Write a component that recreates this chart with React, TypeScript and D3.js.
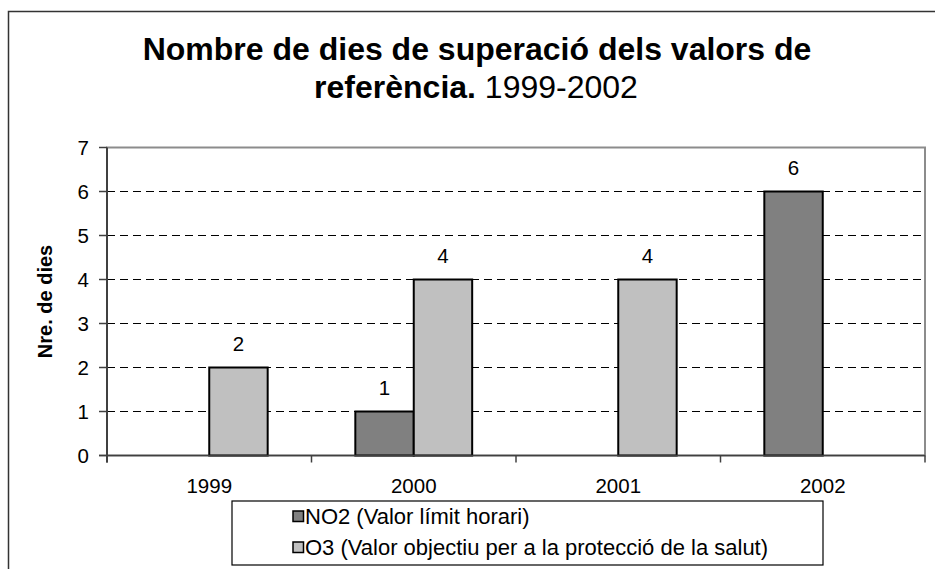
import { useEffect, useRef } from "react";
import * as d3 from "d3";

const years = ["1999", "2000", "2001", "2002"];
const seriesNames = ["NO2", "O3"];
const no2Values: (number | null)[] = [null, 1, null, 6];
const o3Values: (number | null)[] = [2, 4, 4, null];
const legendLabels = [
  "NO2 (Valor límit horari)",
  "O3 (Valor objectiu per a la protecció de la salut)",
];
const seriesColors = ["#808080", "#c0c0c0"];
const yTicks = [0, 1, 2, 3, 4, 5, 6, 7];

const width = 935;
const height = 569;
const font = "'Liberation Sans', Arial, sans-serif";

export default function App() {
  const ref = useRef<SVGSVGElement | null>(null);

  useEffect(() => {
    const svg = d3.select(ref.current);
    svg.selectAll("*").remove();

    const plot = { left: 107, right: 925, top: 147.5, bottom: 455.5 };

    const xScale = d3
      .scaleBand<string>()
      .domain(years)
      .range([plot.left, plot.right])
      .padding(0);

    const seriesScale = d3
      .scaleBand<string>()
      .domain(seriesNames)
      .range([0, xScale.bandwidth()])
      .paddingInner(0)
      .paddingOuter(0.75);

    const yScale = d3
      .scaleLinear()
      .domain([0, 7])
      .range([plot.bottom, plot.top]);

    // outer chart frame (runs off the page on the right and bottom)
    svg
      .append("rect")
      .attr("x", 8.5)
      .attr("y", 11.5)
      .attr("width", width)
      .attr("height", height)
      .attr("fill", "#ffffff")
      .attr("stroke", "#333333")
      .attr("stroke-width", 1.5);

    // title
    const title = svg
      .append("text")
      .attr("text-anchor", "middle")
      .attr("font-family", font)
      .attr("font-size", 32)
      .attr("fill", "#000000");
    title
      .append("tspan")
      .attr("x", 477)
      .attr("y", 59.5)
      .attr("font-weight", 700)
      .text("Nombre de dies de superació dels valors de");
    const line2 = title.append("tspan").attr("x", 476).attr("y", 97.5);
    line2.append("tspan").attr("font-weight", 700).text("referència.");
    line2.append("tspan").text(" 1999-2002");

    // plot frame
    svg
      .append("rect")
      .attr("x", plot.left)
      .attr("y", plot.top)
      .attr("width", plot.right - plot.left)
      .attr("height", plot.bottom - plot.top)
      .attr("fill", "#ffffff")
      .attr("stroke", "#8c8c8c")
      .attr("stroke-width", 2);

    // dashed gridlines
    svg
      .append("g")
      .selectAll("line")
      .data(yTicks.filter((t) => t > 0 && t < 7))
      .join("line")
      .attr("x1", plot.left)
      .attr("x2", plot.right)
      .attr("y1", (d) => yScale(d))
      .attr("y2", (d) => yScale(d))
      .attr("stroke", "#000000")
      .attr("stroke-width", 1)
      .attr("stroke-dasharray", "8,5");

    // bars
    const barData = years.flatMap((year, i) => [
      { year, series: "NO2", value: no2Values[i], color: seriesColors[0] },
      { year, series: "O3", value: o3Values[i], color: seriesColors[1] },
    ]).filter((d) => d.value !== null) as {
      year: string;
      series: string;
      value: number;
      color: string;
    }[];

    const barX = (d: { year: string; series: string }) =>
      (xScale(d.year) ?? 0) + (seriesScale(d.series) ?? 0);

    svg
      .append("g")
      .selectAll("rect")
      .data(barData)
      .join("rect")
      .attr("x", barX)
      .attr("y", (d) => yScale(d.value))
      .attr("width", seriesScale.bandwidth())
      .attr("height", (d) => yScale(0) - yScale(d.value))
      .attr("fill", (d) => d.color)
      .attr("stroke", "#000000")
      .attr("stroke-width", 2);

    svg
      .append("g")
      .selectAll("text")
      .data(barData)
      .join("text")
      .attr("x", (d) => barX(d) + seriesScale.bandwidth() / 2)
      .attr("y", (d) => yScale(d.value) - 17)
      .attr("text-anchor", "middle")
      .attr("font-family", font)
      .attr("font-size", 20.5)
      .attr("fill", "#000000")
      .text((d) => d.value);

    // axes
    const axisColor = "#404040";
    svg
      .append("line")
      .attr("x1", plot.left)
      .attr("x2", plot.left)
      .attr("y1", plot.top)
      .attr("y2", plot.bottom + 7)
      .attr("stroke", axisColor)
      .attr("stroke-width", 2);
    svg
      .append("line")
      .attr("x1", plot.left - 8)
      .attr("x2", plot.right)
      .attr("y1", plot.bottom)
      .attr("y2", plot.bottom)
      .attr("stroke", axisColor)
      .attr("stroke-width", 1.5);

    const yAxis = svg.append("g");
    yAxis
      .selectAll("line")
      .data(yTicks)
      .join("line")
      .attr("x1", plot.left - 8)
      .attr("x2", plot.left)
      .attr("y1", (d) => yScale(d))
      .attr("y2", (d) => yScale(d))
      .attr("stroke", axisColor)
      .attr("stroke-width", 1.5);
    yAxis
      .selectAll("text")
      .data(yTicks)
      .join("text")
      .attr("x", 89)
      .attr("y", (d) => yScale(d) + 7.3)
      .attr("text-anchor", "end")
      .attr("font-family", font)
      .attr("font-size", 20.5)
      .attr("fill", "#000000")
      .text((d) => d);

    const boundaries = years.map((y) => xScale(y) ?? 0).concat(plot.right);
    svg
      .append("g")
      .selectAll("line")
      .data(boundaries)
      .join("line")
      .attr("x1", (d) => d)
      .attr("x2", (d) => d)
      .attr("y1", plot.bottom)
      .attr("y2", plot.bottom + 7)
      .attr("stroke", axisColor)
      .attr("stroke-width", 1.5);

    svg
      .append("g")
      .selectAll("text")
      .data(years)
      .join("text")
      .attr("x", (d) => (xScale(d) ?? 0) + xScale.bandwidth() / 2)
      .attr("y", 492.5)
      .attr("text-anchor", "middle")
      .attr("font-family", font)
      .attr("font-size", 20.5)
      .attr("fill", "#000000")
      .text((d) => d);

    svg
      .append("text")
      .attr("transform", `translate(52,${(plot.top + plot.bottom) / 2}) rotate(-90)`)
      .attr("text-anchor", "middle")
      .attr("font-family", font)
      .attr("font-size", 20)
      .attr("font-weight", 700)
      .attr("fill", "#000000")
      .text("Nre. de dies");

    // legend
    const legend = svg.append("g").attr("transform", "translate(232,501)");
    legend
      .append("rect")
      .attr("x", 0)
      .attr("y", 0)
      .attr("width", 591)
      .attr("height", 64)
      .attr("fill", "#ffffff")
      .attr("stroke", "#000000")
      .attr("stroke-width", 1.2);

    const items = legend
      .selectAll("g")
      .data(legendLabels)
      .join("g")
      .attr("transform", (_, i) => `translate(61,${10 + i * 31})`);
    items
      .append("rect")
      .attr("x", 0)
      .attr("y", 0)
      .attr("width", 10.5)
      .attr("height", 10.5)
      .attr("fill", (_, i) => seriesColors[i])
      .attr("stroke", "#000000")
      .attr("stroke-width", 1.5);
    items
      .append("text")
      .attr("x", 12)
      .attr("y", 12.5)
      .attr("font-family", font)
      .attr("font-size", 22)
      .attr("fill", "#000000")
      .text((d) => d);
  }, []);

  return (
    <svg
      ref={ref}
      width={width}
      height={height}
      style={{ position: "absolute", left: 0, top: 0, background: "#ffffff" }}
    />
  );
}
